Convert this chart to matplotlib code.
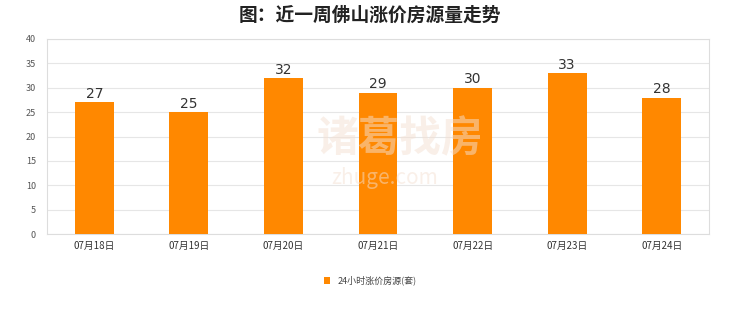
import matplotlib.pyplot as plt
import numpy as np

plt.rcParams['font.family'] = ['Noto Sans CJK SC', 'DejaVu Sans']

dates = ['07月18日', '07月19日', '07月20日', '07月21日', '07月22日', '07月23日', '07月24日']
counts = [27, 25, 32, 29, 30, 33, 28]
series_name = '24小时涨价房源(套)'
title = '图：近一周佛山涨价房源量走势'

fig = plt.figure(figsize=(7.4, 3.12), dpi=100)
ax = fig.add_axes([47 / 740, 1 - 234 / 312, 662 / 740, 195 / 312])

x = np.arange(len(dates))
bars = ax.bar(x, counts, width=0.41, color='#ff8800', zorder=3, label=series_name)
for xi, v in zip(x, counts):
    ax.text(xi, v + 0.3, str(v), ha='center', va='bottom', fontsize=10, color='#333333',
            family=['DejaVu Sans'])

ax.set_xlim(-0.5, len(dates) - 0.5)
ax.set_ylim(0, 40)
ax.set_yticks(range(0, 41, 5))
ax.set_xticks(x)
ax.set_xticklabels(dates, fontsize=7, color='#333333')
ax.tick_params(axis='y', labelsize=6.5, labelcolor='#555555', length=0, pad=8)
ax.tick_params(axis='x', length=0, pad=5)
ax.grid(axis='y', color='#e6e6e6', linewidth=0.8, zorder=0)
for s in ax.spines.values():
    s.set_color('#dddddd')
    s.set_linewidth(0.8)

# watermark
fig.text(0.54, 0.555, '诸葛找房', fontsize=30, color='#f4e0d2', alpha=0.5, ha='center', va='center',
         fontweight='bold')
fig.text(0.52, 0.43, 'zhuge.com', fontsize=15, color='#f4e0d2', alpha=0.5, ha='center', va='center')

fig.text(0.5, 0.95, title, fontsize=13.5, fontweight='bold', color='#222222', ha='center', va='center')

leg = fig.legend(handles=[bars], labels=[series_name], loc='center', bbox_to_anchor=(0.5, 0.1),
                 frameon=False, fontsize=6.5, handlelength=0.7, handleheight=0.7, handletextpad=0.8)
for t in leg.get_texts():
    t.set_color('#444444')

fig.savefig('out.png', dpi=100, facecolor='white')
